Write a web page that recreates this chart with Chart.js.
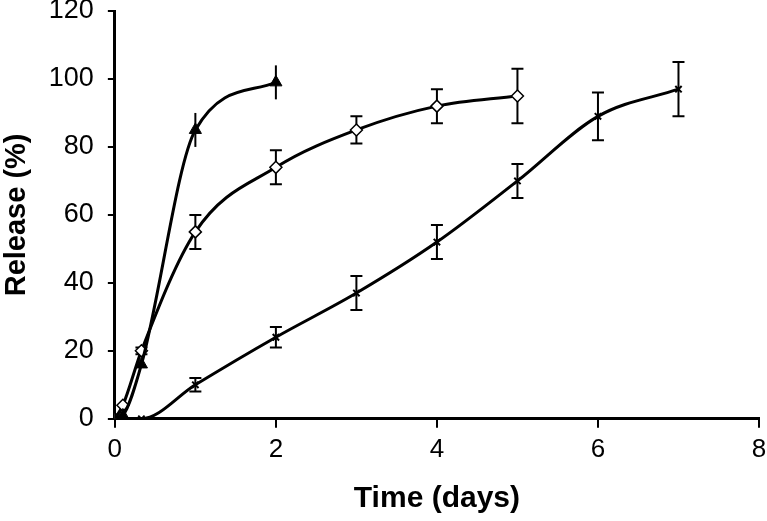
<!DOCTYPE html>
<html>
<head>
<meta charset="utf-8">
<script src="https://cdn.jsdelivr.net/npm/chart.js@4.4.1/dist/chart.umd.min.js"></script>
<style>
  html, body { margin: 0; padding: 0; background: #fff; }
  #wrap { width: 767px; height: 521px; }
</style>
</head>
<body>
<div id="wrap"><canvas id="myChart"></canvas></div>
<script>
// triangle series
const daysA = [0, 0.1, 0.33, 1, 2];
const releaseA = [0, 1, 16, 85, 99];
const errA = [0, 0, 1, 5, 5];

// diamond series
const daysB = [0, 0.1, 0.33, 1, 2, 3, 4, 5];
const releaseB = [0, 4, 20, 55, 74, 85, 92, 95];
const errB = [0, 0, 1, 5, 5, 4, 5, 8];

// cross series
const daysC = [0, 0.33, 1, 2, 3, 4, 5, 6, 7];
const releaseC = [0, 0, 10, 24, 37, 52, 70, 89, 97];
const errC = [0, 0, 2, 3, 5, 5, 5, 7, 8];

const xTicks = [0, 2, 4, 6, 8];
const yTicks = [0, 20, 40, 60, 80, 100, 120];

const toPoints = (xs, ys) => xs.map((x, i) => ({ x: x, y: ys[i] }));

// draws the vertical error bars under the lines
const errorBars = {
  id: "errorBars",
  beforeDatasetsDraw(chart) {
    const ctx = chart.ctx;
    const yScale = chart.scales.y;
    chart.data.datasets.forEach((ds, di) => {
      const meta = chart.getDatasetMeta(di);
      ctx.save();
      ctx.strokeStyle = "#000";
      ctx.lineWidth = 2;
      meta.data.forEach((pt, i) => {
        const e = ds.errors[i];
        if (!e) return;
        const v = ds.data[i].y;
        const top = yScale.getPixelForValue(v + e);
        const bot = yScale.getPixelForValue(v - e);
        ctx.beginPath();
        ctx.moveTo(pt.x, top);
        ctx.lineTo(pt.x, bot);
        if (ds.capWidth) {
          ctx.moveTo(pt.x - ds.capWidth, top);
          ctx.lineTo(pt.x + ds.capWidth, top);
          ctx.moveTo(pt.x - ds.capWidth, bot);
          ctx.lineTo(pt.x + ds.capWidth, bot);
        }
        ctx.stroke();
      });
      ctx.restore();
    });
  },
};

const ctx = document.getElementById("myChart").getContext("2d");

const chart = new Chart(ctx, {
  type: "line",
  data: {
    datasets: [
      {
        label: "A",
        data: toPoints(daysA, releaseA),
        errors: errA,
        capWidth: 0,
        borderColor: "#000",
        borderWidth: 3,
        pointStyle: "triangle",
        pointRadius: 7,
        pointBackgroundColor: "#000",
        pointBorderColor: "#000",
        pointBorderWidth: 1,
        cubicInterpolationMode: "monotone",
      },
      {
        label: "B",
        data: toPoints(daysB, releaseB),
        errors: errB,
        capWidth: 6,
        borderColor: "#000",
        borderWidth: 3,
        pointStyle: "rectRot",
        pointRadius: 6,
        pointBackgroundColor: "#fff",
        pointBorderColor: "#000",
        pointBorderWidth: 1.5,
        cubicInterpolationMode: "monotone",
      },
      {
        label: "C",
        data: toPoints(daysC, releaseC),
        errors: errC,
        capWidth: 6,
        borderColor: "#000",
        borderWidth: 3,
        pointStyle: "crossRot",
        pointRadius: 4.5,
        pointBorderColor: "#000",
        pointBorderWidth: 2,
        cubicInterpolationMode: "monotone",
      },
    ],
  },
  plugins: [errorBars],
  options: {
    responsive: true,
    maintainAspectRatio: false,
    animation: false,
    layout: { padding: { top: 11, right: 7, left: 0, bottom: 4 } },
    plugins: {
      legend: { display: false },
      tooltip: { enabled: false },
    },
    scales: {
      x: {
        type: "linear",
        min: 0,
        max: 8,
        afterBuildTicks: (scale) => {
          scale.ticks = xTicks.map((v) => ({ value: v }));
        },
        afterFit: (scale) => {
          scale.paddingLeft = 0;
          scale.paddingRight = 0;
        },
        border: { color: "#000", width: 3 },
        grid: { drawOnChartArea: false, drawTicks: true, tickLength: 9, color: "#000", lineWidth: 2 },
        ticks: {
          color: "#000",
          padding: 6,
          font: { family: "Liberation Sans, Arial", size: 26 },
          maxRotation: 0,
        },
        title: {
          display: true,
          text: "Time (days)",
          color: "#000",
          padding: { top: 10, bottom: 0 },
          font: { family: "Liberation Sans Narrow, Liberation Sans, Arial", size: 30, weight: "bold" },
        },
      },
      y: {
        min: 0,
        max: 120,
        afterBuildTicks: (scale) => {
          scale.ticks = yTicks.map((v) => ({ value: v }));
        },
        afterFit: (scale) => {
          scale.paddingTop = 0;
          scale.paddingBottom = 0;
        },
        border: { color: "#000", width: 3 },
        grid: { drawOnChartArea: false, drawTicks: true, tickLength: 7, color: "#000", lineWidth: 2 },
        ticks: {
          color: "#000",
          padding: 14,
          font: { family: "Liberation Sans, Arial", size: 27 },
        },
        title: {
          display: true,
          text: "Release (%)",
          color: "#000",
          padding: { top: 0, bottom: 0 },
          font: { family: "Liberation Sans, Arial", size: 29, weight: "bold" },
        },
      },
    },
  },
});
</script>
</body>
</html>
